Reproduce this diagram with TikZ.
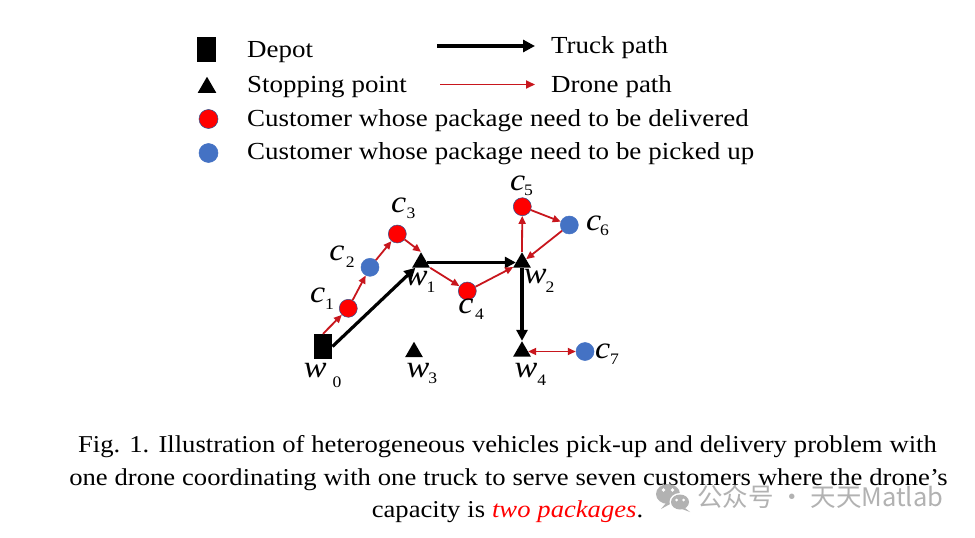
\documentclass[tikz,border=0pt]{standalone}
\usepackage{fontspec}
\setmainfont{Liberation Serif}[FakeStretch=1.1,WordSpace=1.04]
\newfontfamily\cjk{Noto Sans CJK SC}
\usetikzlibrary{arrows.meta,shapes.geometric}
\definecolor{dred}{HTML}{C8161D}
\definecolor{cred}{HTML}{FF0000}
\definecolor{cblue}{HTML}{4472C4}
\definecolor{cline}{HTML}{2F528F}
\definecolor{wmark}{HTML}{B2B2B2}
% label: letter, subscript, kern (pt), drop (pt)
\newcommand\lbl[4]{\textit{#1}\kern#3pt\raisebox{-#4pt}{\fontsize{16}{16}\selectfont #2}}
\begin{document}
\begin{tikzpicture}[x=1pt,y=-1pt,
  truck/.style={line width=3.2pt,-{Triangle[length=11pt,width=11pt]}},
  drone/.style={draw=dred,line width=1.8pt,-{Triangle[length=8pt,width=7pt]}},
  dronetwo/.style={draw=dred,line width=1.8pt,{Triangle[length=8pt,width=7pt]}-{Triangle[length=8pt,width=7pt]}},
  depot/.style={rectangle,fill=black,inner sep=0pt,minimum width=18.5pt,minimum height=25pt},
  stopnode/.style={regular polygon,regular polygon sides=3,fill=black,inner sep=0pt,minimum size=20.5pt},
  delnode/.style={circle,fill=cred,draw=cline,line width=0.5pt,inner sep=0pt,minimum size=18pt},
  picknode/.style={circle,fill=cblue,draw=cblue,line width=0.5pt,inner sep=0pt,minimum size=18pt},
  legtext/.style={anchor=base west,inner sep=0pt,font=\fontsize{24.5}{28}\selectfont},
  captext/.style={anchor=base,inner sep=0pt,font=\fontsize{24.2}{28}\selectfont},
  lab/.style={anchor=base west,inner sep=0pt,font=\fontsize{31}{31}\selectfont}
]
\useasboundingbox (0,0) rectangle (975,538);
\fill[white] (0,0) rectangle (975,538);

% ---------- legend ----------
\node[depot] (ldepot) at (206.5,49.5) {};
\node[stopnode,minimum size=21.5pt] (lstop) at (207,87.5) {};
\node[delnode,minimum size=19pt] (ldel) at (208.5,119) {};
\node[picknode,minimum size=19pt] (lpick) at (208.5,153) {};
\node[legtext] (tdepot) at (247,57) {Depot};
\node[legtext] (tstop) at (247,92) {Stopping point};
\node[legtext] (tdel) at (247,126) {Customer whose package need to be delivered};
\node[legtext] (tpick) at (247,159.5) {Customer whose package need to be picked up};

\coordinate (ta) at (437,46);
\coordinate (tb) at (535,46);
\draw[truck,-{Triangle[length=12pt,width=12pt]}] (ta) -- (tb);
\node[legtext] (ttruck) at (551,53) {Truck path};
\coordinate (da) at (440,84.5);
\coordinate (db) at (535,84.5);
\draw[drone,-{Triangle[length=9pt,width=8pt]}] (da) -- (db);
\node[legtext] (tdrone) at (551,92) {Drone path};

% ---------- network ----------
\node[depot] (w0) at (323,346.5) {};
\node[stopnode] (w1) at (421,262.5) {};
\node[stopnode] (w2) at (522,262.5) {};
\node[stopnode] (w3) at (414,352) {};
\node[stopnode] (w4) at (522,351.5) {};

\node[delnode] (c1) at (348.3,308.3) {};
\node[picknode] (c2) at (370,267.3) {};
\node[delnode] (c3) at (397.3,234) {};
\node[delnode] (c4) at (467.3,291) {};
\node[delnode] (c5) at (522.3,206.7) {};
\node[picknode] (c6) at (569.3,225) {};
\node[picknode] (c7) at (585,351.5) {};

% truck path
\draw[truck] (w0.east) -- (w1);
\draw[truck] (w1) -- (w2);
\draw[truck] (w2) -- (w4.corner 1);

% drone path
\draw[drone] (w0.north) -- (c1);
\draw[drone] (c1) -- (c2);
\draw[drone] (c2) -- (c3);
\draw[drone] (c3) -- (w1.corner 1);
\draw[drone] (w1.corner 3) -- (c4);
\draw[drone] (c4) -- (w2);
\draw[drone] (w2.corner 1) -- (c5);
\draw[drone] (c5) -- (c6);
\draw[drone] (c6) -- (w2);
\draw[dronetwo] (w4) -- (c7);

% labels
\node[lab] (lc1) at (309.8,302)   {\lbl{c}{1}{0}{7.3}};
\node[lab] (lc2) at (329.2,260.3) {\lbl{c}{2}{1.3}{6.7}};
\node[lab] (lc3) at (390.8,212)   {\lbl{c}{3}{0.5}{6}};
\node[lab] (lc4) at (458.2,313.7) {\lbl{c}{4}{1.6}{5.6}};
\node[lab] (lc5) at (509.8,190.3) {\lbl{c}{5}{-1}{5}};
\node[lab] (lc6) at (585.8,230.3) {\lbl{c}{6}{-1}{5}};
\node[lab] (lc7) at (594.8,358.7) {\lbl{c}{7}{0}{5.9}};
\node[lab] (lw0) at (303.7,377)   {\lbl{w}{0}{5.9}{10}};
\node[lab] (lw1) at (404.7,285.3) {\lbl{w}{1}{-1}{7.3}};
\node[lab] (lw2) at (523.7,283.7) {\lbl{w}{2}{-1}{8.3}};
\node[lab] (lw3) at (406.5,377)   {\lbl{w}{3}{-1}{6.6}};
\node[lab] (lw4) at (514.4,377)   {\lbl{w}{4}{0}{8.3}};

% ---------- caption ----------
\node[captext] (cap1) at (507.5,452) {Fig. 1. Illustration of heterogeneous vehicles pick-up and delivery problem with};
\node[captext] (cap2) at (508.5,485) {one drone coordinating with one truck to serve seven customers where the drone’s};
\node[captext] (cap3) at (507.5,517) {capacity is \textcolor{cred}{\itshape two packages}.};

% ---------- watermark ----------
\fill[wmark] (668,494) ellipse[x radius=12pt,y radius=10pt];
\fill[wmark] (666,503) -- (661,509) -- (672,503) -- cycle;
\fill[white] (680,502) ellipse[x radius=10.5pt,y radius=9pt];
\fill[wmark] (680,502) ellipse[x radius=9pt,y radius=7.5pt];
\fill[wmark] (685,508) -- (690,512) -- (682,509) -- cycle;
\fill[white] (663.5,490) circle[radius=1.8pt] (672.5,490) circle[radius=1.8pt];
\fill[white] (676.5,500) circle[radius=1.5pt] (683.5,500) circle[radius=1.5pt];
\node[anchor=west,inner sep=0pt,text=wmark,font=\cjk\fontsize{25.5}{25.5}\selectfont] (wm) at (697,497) {公众号 · 天天Matlab};
\end{tikzpicture}
\end{document}
